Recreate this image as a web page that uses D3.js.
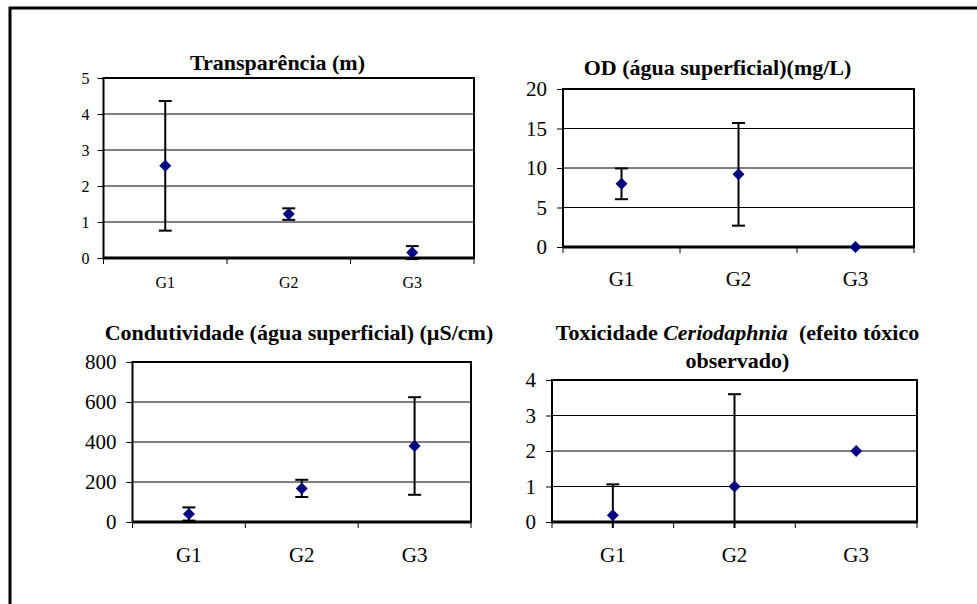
<!DOCTYPE html>
<html>
<head>
<meta charset="utf-8">
<script src="https://cdn.jsdelivr.net/npm/d3@7"></script>
<style>
  body { margin: 0; background: #fff; }
  svg text { font-family: "Liberation Serif", "Times New Roman", serif; fill: #000; }
</style>
</head>
<body>
<svg id="chart" width="977" height="604"></svg>
<script>
// groups shared by the four panels
const groups = ["G1", "G2", "G3"];

// Transparência (m)
const transpMean = [2.56, 1.22, 0.15];
const transpErr  = [1.80, 0.16, 0.18];
const transpTicks = [0, 1, 2, 3, 4, 5];

// OD (água superficial)(mg/L)
const odMean = [8.0, 9.2, 0];
const odErr  = [1.95, 6.5, 0];
const odTicks = [0, 5, 10, 15, 20];

// Condutividade (água superficial) (µS/cm)
const condMean = [40, 168, 380];
const condErr  = [33, 43, 244];
const condTicks = [0, 200, 400, 600, 800];

// Toxicidade Ceriodaphnia (efeito tóxico observado)
const toxMean = [0.19, 1.0, 2.0];
const toxErr  = [0.87, 2.6, 0];
const toxTicks = [0, 1, 2, 3, 4];

const svg = d3.select("#chart");

// outer frame (runs off the right and bottom edge)
svg.append("path")
  .attr("d", "M10,1000 V8 H1000")
  .attr("fill", "none")
  .attr("stroke", "#000")
  .attr("stroke-width", 3);

const panels = [
  { left: 103.5, right: 474, top: 78, bottom: 258, font: 16, pad: 8, labelY: 288,
    means: transpMean, errs: transpErr, ticks: transpTicks,
    title: [[{ t: "Transparência (m)" }]], titleX: 277.5, titleY: [70] },
  { left: 563, right: 914, top: 89, bottom: 247, font: 21, pad: 10, labelY: 286,
    means: odMean, errs: odErr, ticks: odTicks,
    title: [[{ t: "OD (água superficial)(mg/L)" }]], titleX: 717.5, titleY: [75] },
  { left: 132.5, right: 471, top: 362, bottom: 522, font: 21, pad: 10, labelY: 562,
    means: condMean, errs: condErr, ticks: condTicks,
    title: [[{ t: "Condutividade (água superficial) (µS/cm)" }]], titleX: 299, titleY: [340] },
  { left: 552, right: 917, top: 380, bottom: 522, font: 21, pad: 10, labelY: 562,
    means: toxMean, errs: toxErr, ticks: toxTicks,
    title: [[{ t: "Toxicidade " }, { t: "Ceriodaphnia", it: true }, { t: "  (efeito tóxico" }],
            [{ t: "observado)" }]],
    titleX: 737.5, titleY: [340, 368] }
];

panels.forEach(p => {
  const g = svg.append("g");

  const x = d3.scaleBand().domain(groups).range([p.left, p.right]);
  const y = d3.scaleLinear()
    .domain([p.ticks[0], p.ticks[p.ticks.length - 1]])
    .range([p.bottom, p.top]);

  // gridlines
  g.selectAll(".grid")
    .data(p.ticks.slice(1, -1))
    .join("line")
    .attr("x1", p.left).attr("x2", p.right)
    .attr("y1", d => y(d)).attr("y2", d => y(d))
    .attr("stroke", "#000").attr("stroke-width", 1);

  // plot frame
  g.append("rect")
    .attr("x", p.left).attr("y", p.top)
    .attr("width", p.right - p.left).attr("height", p.bottom - p.top)
    .attr("fill", "none").attr("stroke", "#000").attr("stroke-width", 2);

  // y axis
  const ya = g.append("g")
    .attr("transform", `translate(${p.left},0)`)
    .call(d3.axisLeft(y).tickValues(p.ticks).tickFormat(d3.format("d"))
      .tickSize(6).tickPadding(p.pad));
  ya.select(".domain").remove();
  ya.attr("font-family", null);
  ya.selectAll(".tick line").attr("stroke", "#000").attr("stroke-width", 1);
  ya.selectAll(".tick text").attr("font-size", p.font);

  // category axis: ticks at band boundaries, labels at centres
  const bounds = groups.map(c => x(c)).concat([p.right]);
  g.selectAll(".ctick")
    .data(bounds)
    .join("line")
    .attr("x1", d => d).attr("x2", d => d)
    .attr("y1", p.bottom).attr("y2", p.bottom + 6)
    .attr("stroke", "#000").attr("stroke-width", 1);
  g.append("line")
    .attr("x1", p.left).attr("x2", p.right)
    .attr("y1", p.bottom).attr("y2", p.bottom)
    .attr("stroke", "#000").attr("stroke-width", 3);

  g.selectAll(".clabel")
    .data(groups)
    .join("text")
    .attr("x", d => x(d) + x.bandwidth() / 2)
    .attr("y", p.labelY)
    .attr("text-anchor", "middle")
    .attr("font-size", p.font)
    .text(d => d);

  // error bars
  const cap = 6.5;
  const yLow = v => Math.min(y(v), p.bottom + 6);
  const eb = g.selectAll(".eb")
    .data(groups.map((c, i) => ({ c, m: p.means[i], e: p.errs[i] })).filter(d => d.e > 0))
    .join("g")
    .attr("transform", d => `translate(${x(d.c) + x.bandwidth() / 2},0)`);
  eb.append("line")
    .attr("y1", d => y(d.m + d.e)).attr("y2", d => yLow(d.m - d.e))
    .attr("stroke", "#000").attr("stroke-width", 2);
  eb.append("line")
    .attr("x1", -cap).attr("x2", cap)
    .attr("y1", d => y(d.m + d.e)).attr("y2", d => y(d.m + d.e))
    .attr("stroke", "#000").attr("stroke-width", 2);
  eb.filter(d => y(d.m - d.e) <= p.bottom + 2)
    .append("line")
    .attr("x1", -cap).attr("x2", cap)
    .attr("y1", d => y(d.m - d.e)).attr("y2", d => y(d.m - d.e))
    .attr("stroke", "#000").attr("stroke-width", 2);

  // diamonds
  g.selectAll(".pt")
    .data(groups.map((c, i) => ({ c, m: p.means[i] })))
    .join("path")
    .attr("d", d3.symbol(d3.symbolSquare, 72))
    .attr("transform", d => `translate(${x(d.c) + x.bandwidth() / 2},${y(d.m)}) rotate(45)`)
    .attr("fill", "#000080");

  // title
  p.title.forEach((line, li) => {
    const t = g.append("text")
      .attr("x", p.titleX).attr("y", p.titleY[li])
      .attr("text-anchor", "middle")
      .attr("font-size", 22)
      .attr("font-weight", "bold")
      .style("white-space", "pre");
    line.forEach(s => {
      t.append("tspan")
        .attr("font-style", s.it ? "italic" : null)
        .text(s.t);
    });
  });
});
</script>
</body>
</html>
